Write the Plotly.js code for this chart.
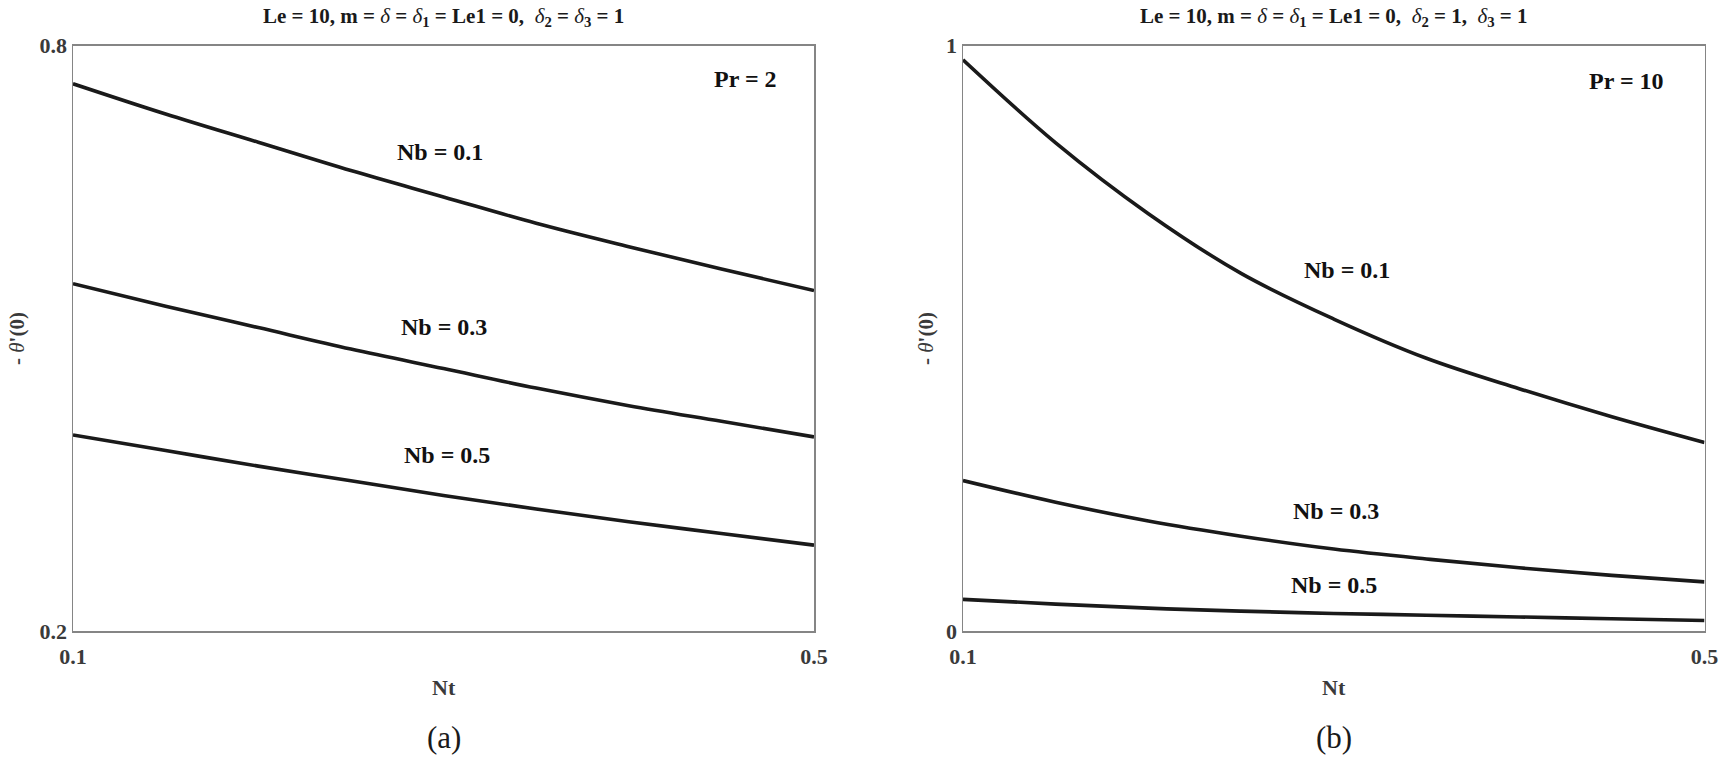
<!DOCTYPE html>
<html>
<head>
<meta charset="utf-8">
<script src="https://cdn.plot.ly/plotly-3.0.1.min.js"></script>
<style>
  html, body { margin: 0; padding: 0; background: #fff; }
  #chart { width: 1724px; height: 761px; }
</style>
</head>
<body>
<div id="chart"></div>
<script>
/* ── data ── */
const NT = [0.1, 0.15, 0.2, 0.25, 0.3, 0.35, 0.4, 0.45, 0.5];

// (a) Pr = 2
const A_NB01 = [0.761, 0.730, 0.701, 0.672, 0.645, 0.618, 0.594, 0.571, 0.549];
const A_NB03 = [0.556, 0.533, 0.511, 0.489, 0.469, 0.449, 0.431, 0.415, 0.399];
const A_NB05 = [0.401, 0.385, 0.369, 0.354, 0.339, 0.325, 0.312, 0.300, 0.288];

// (b) Pr = 10
const B_NB01 = [0.976, 0.834, 0.713, 0.611, 0.533, 0.466, 0.414, 0.366, 0.322];
const B_NB03 = [0.257, 0.220, 0.188, 0.162, 0.140, 0.123, 0.108, 0.095, 0.084];
const B_NB05 = [0.054, 0.046, 0.039, 0.034, 0.030, 0.027, 0.024, 0.021, 0.018];

const CURVE_LABELS = ["Nb = 0.1", "Nb = 0.3", "Nb = 0.5"];
const A_LABEL_POS  = [[0.298, 0.691], [0.300, 0.512], [0.302, 0.380]];
const B_LABEL_POS  = [[0.307, 0.617], [0.301, 0.205], [0.300, 0.079]];

const X_TICKS  = [0.1, 0.5];
const A_YTICKS = [0.2, 0.8];
const B_YTICKS = [0, 1];

/* ── style ── */
const SERIF = "Liberation Serif, Times New Roman, serif";
const LINE_COLOR = "#1a1a1a";
const AXIS_COLOR = "#858585";
const TICK_COLOR = "#3a3a3a";

const W = 1724, H = 761;
const px = v => v / W;
const py = v => 1 - v / H;

const d = "<i>δ</i>";
const b = s => "<b>" + s + "</b>";
const TITLE_A = b("Le = 10, m = ") + d + b(" = ") + d + b("<sub>1</sub> = Le1 = 0,\u00a0 ") +
                d + b("<sub>2</sub> = ") + d + b("<sub>3</sub> = 1");
const TITLE_B = b("Le = 10, m = ") + d + b(" = ") + d + b("<sub>1</sub> = Le1 = 0,\u00a0 ") +
                d + b("<sub>2</sub> = 1,\u00a0 ") + d + b("<sub>3</sub> = 1");

function curve(y, xa, ya) {
  return {
    type: "scatter", mode: "lines", x: NT, y: y,
    xaxis: xa, yaxis: ya,
    line: { color: LINE_COLOR, width: 3.6, shape: "spline", smoothing: 1 },
    hoverinfo: "skip", showlegend: false,
  };
}

const traces = [
  curve(A_NB01, "x", "y"), curve(A_NB03, "x", "y"), curve(A_NB05, "x", "y"),
  curve(B_NB01, "x2", "y2"), curve(B_NB03, "x2", "y2"), curve(B_NB05, "x2", "y2"),
];

function axis(domain, range, ticks) {
  return {
    domain: domain, range: range,
    tickmode: "array", tickvals: ticks, ticktext: ticks.map(String),
    showgrid: false, zeroline: false,
    showline: true, mirror: true, linecolor: AXIS_COLOR, linewidth: 1.5,
    ticks: "inside", ticklen: 7, tickcolor: AXIS_COLOR, tickwidth: 1.5,
    tickfont: { family: SERIF, size: 22, color: TICK_COLOR, weight: "bold" },
    fixedrange: true,
  };
}

const DOM_A = [px(73), px(814)];
const DOM_B = [px(963), px(1704.5)];
const DOM_Y = [py(631), py(45.7)];

const annotations = [];
function paperText(text, x, y, size, opts) {
  annotations.push(Object.assign({
    xref: "paper", yref: "paper", x: px(x), y: py(y),
    text: text, showarrow: false, xanchor: "center", yanchor: "middle",
    font: { family: SERIF, size: size, color: "#1a1a1a" },
  }, opts || {}));
}

// titles
paperText(TITLE_A, 443.5, 17, 21);
paperText(TITLE_B, 1334, 17, 21);
// x axis titles
paperText(b("Nt"), 443.5, 687, 22, { font: { family: SERIF, size: 22, color: TICK_COLOR } });
paperText(b("Nt"), 1334, 687, 22, { font: { family: SERIF, size: 22, color: TICK_COLOR } });
// y axis titles
const YLAB = b("- ") + "<i>θ</i>" + b("'(0)");
paperText(YLAB, 17, 339, 21, { textangle: -90, font: { family: SERIF, size: 21, color: TICK_COLOR } });
paperText(YLAB, 926, 339, 21, { textangle: -90, font: { family: SERIF, size: 21, color: TICK_COLOR } });
// panel letters
paperText("(a)", 443.5, 737, 31);
paperText("(b)", 1334, 737, 31);

// curve labels
function dataText(text, x, y, xa, ya) {
  annotations.push({
    xref: xa, yref: ya, x: x, y: y, text: b(text), showarrow: false,
    xanchor: "center", yanchor: "middle",
    font: { family: SERIF, size: 24, color: "#111" },
  });
}
CURVE_LABELS.forEach((t, i) => dataText(t, A_LABEL_POS[i][0], A_LABEL_POS[i][1], "x", "y"));
CURVE_LABELS.forEach((t, i) => dataText(t, B_LABEL_POS[i][0], B_LABEL_POS[i][1], "x2", "y2"));
dataText("Pr = 2", 0.463, 0.766, "x", "y");
dataText("Pr = 10", 0.458, 0.940, "x2", "y2");

const layout = {
  width: W, height: H,
  paper_bgcolor: "#fff", plot_bgcolor: "#fff",
  margin: { l: 0, r: 0, t: 0, b: 0 },
  showlegend: false,
  xaxis:  Object.assign(axis(DOM_A, [0.1, 0.5], X_TICKS), { anchor: "y", ticklabelstandoff: 5 }),
  yaxis:  Object.assign(axis(DOM_Y, [0.2, 0.8], A_YTICKS), { anchor: "x" }),
  xaxis2: Object.assign(axis(DOM_B, [0.1, 0.5], X_TICKS), { anchor: "y2", ticklabelstandoff: 5 }),
  yaxis2: Object.assign(axis(DOM_Y, [0, 1], B_YTICKS), { anchor: "x2" }),
  annotations: annotations,
};

Plotly.newPlot("chart", traces, layout, { displayModeBar: false, staticPlot: true });
</script>
</body>
</html>
